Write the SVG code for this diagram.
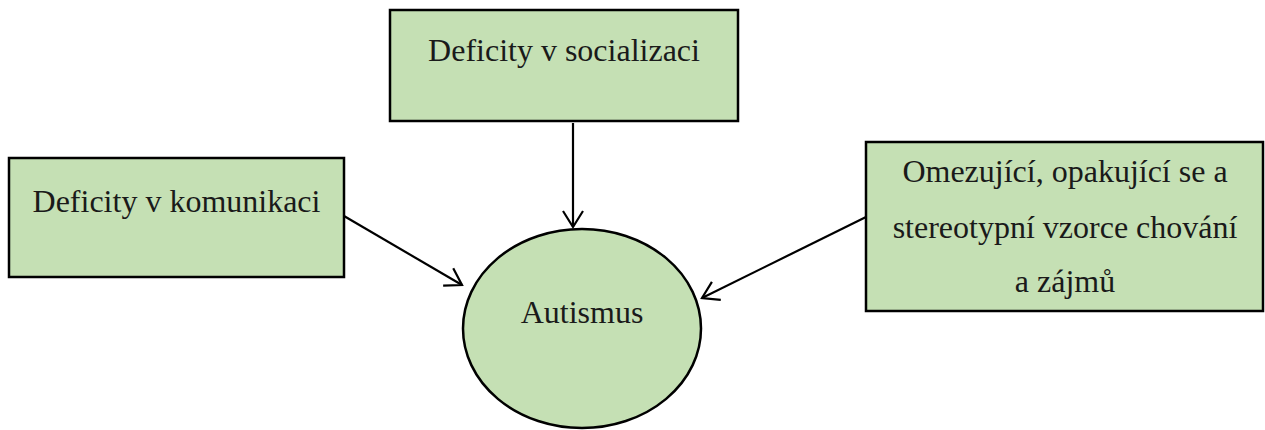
<svg xmlns="http://www.w3.org/2000/svg" width="1265" height="430" viewBox="0 0 1265 430">
<style>
.box{fill:#C5E0B4;stroke:#000;stroke-width:2.5}
.lbl{font-family:"Liberation Serif","Times New Roman",serif;font-size:32px;fill:#1a1a1a;text-anchor:middle}
.conn{stroke:#000;stroke-width:2.2;fill:none}
</style>
<defs>
<marker id="arr" markerUnits="userSpaceOnUse" markerWidth="24" markerHeight="24" viewBox="-18 -12 20 24" refX="0" refY="0" orient="auto">
<polyline points="-16,-10 0,0 -16,10" fill="none" stroke="#000" stroke-width="2.2"/>
</marker>
</defs>
<rect width="1265" height="430" fill="#fff"/>
<g id="connectors">
<line class="conn" x1="573" y1="123" x2="573" y2="227" marker-end="url(#arr)"/>
<line class="conn" x1="344" y1="216" x2="462" y2="285" marker-end="url(#arr)"/>
<line class="conn" x1="866" y1="217" x2="702" y2="298" marker-end="url(#arr)"/>
</g>
<g id="socializace">
<rect class="box" x="390" y="10" width="348" height="111"/>
<text class="lbl" x="564" y="61">Deficity v socializaci</text>
</g>
<g id="komunikace">
<rect class="box" x="9" y="158" width="335" height="119"/>
<text class="lbl" x="176.5" y="212">Deficity v komunikaci</text>
</g>
<g id="chovani">
<rect class="box" x="866" y="142" width="397" height="169"/>
<text class="lbl" x="1065" y="182">Omezující, opakující se a</text>
<text class="lbl" x="1065" y="238">stereotypní vzorce chování</text>
<text class="lbl" x="1065" y="292">a zájmů</text>
</g>
<g id="autismus">
<ellipse class="box" cx="582" cy="328.5" rx="119" ry="99.5"/>
<text class="lbl" x="582" y="323">Autismus</text>
</g>
</svg>
